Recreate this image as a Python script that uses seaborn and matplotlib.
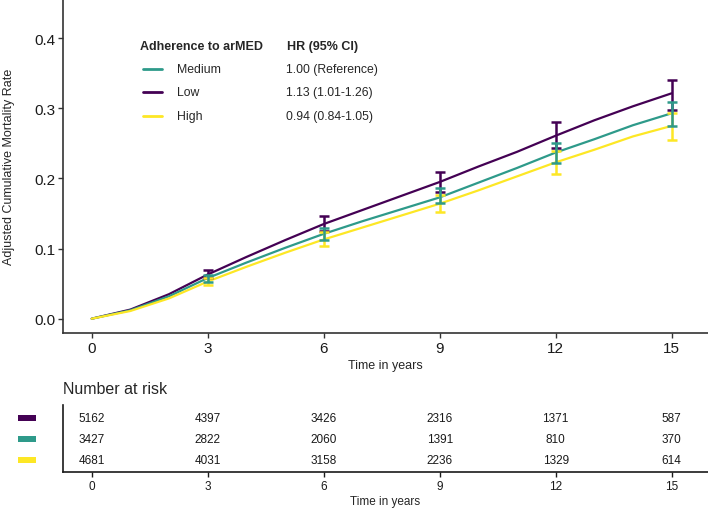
import matplotlib
matplotlib.use("Agg")
import matplotlib.pyplot as plt
from matplotlib.patches import Rectangle
from matplotlib.lines import Line2D
import numpy as np
import pandas as pd
import seaborn as sns

# ---------------- data ----------------
groups = ["Low", "Medium", "High"]
legend_order = ["Medium", "Low", "High"]
hr_labels = {"Medium": "1.00 (Reference)", "Low": "1.13 (1.01-1.26)", "High": "0.94 (0.84-1.05)"}
colors = {"Low": "#440154", "Medium": "#2E9A8A", "High": "#FDE725"}

years = [0, 1, 2, 3, 4, 5, 6, 7, 8, 9, 10, 11, 12, 13, 14, 15]
risk_low = [0, 0.013, 0.035, 0.063, 0.088, 0.112, 0.135, 0.155, 0.175, 0.195, 0.217, 0.238, 0.261, 0.283, 0.303, 0.3215]
risk_medium = [0, 0.012, 0.032, 0.058, 0.080, 0.101, 0.121, 0.139, 0.156, 0.173, 0.194, 0.215, 0.237, 0.256, 0.276, 0.293]
risk_high = [0, 0.011, 0.029, 0.053, 0.074, 0.094, 0.113, 0.130, 0.147, 0.164, 0.183, 0.203, 0.223, 0.241, 0.260, 0.275]

ci_years = [3, 6, 9, 12, 15]
ci_low_lo = [0.058, 0.1255, 0.181, 0.2435, 0.298]
ci_low_hi = [0.069, 0.146, 0.209, 0.280, 0.341]
ci_medium_lo = [0.053, 0.112, 0.165, 0.2225, 0.275]
ci_medium_hi = [0.063, 0.129, 0.186, 0.2505, 0.309]
ci_high_lo = [0.048, 0.103, 0.152, 0.2065, 0.255]
ci_high_hi = [0.058, 0.123, 0.177, 0.239, 0.294]

risk_times = [0, 3, 6, 9, 12, 15]
at_risk_low = [5162, 4397, 3426, 2316, 1371, 587]
at_risk_medium = [3427, 2822, 2060, 1391, 810, 370]
at_risk_high = [4681, 4031, 3158, 2236, 1329, 614]

curves = {"Low": risk_low, "Medium": risk_medium, "High": risk_high}
cis = {"Low": (ci_low_lo, ci_low_hi), "Medium": (ci_medium_lo, ci_medium_hi),
       "High": (ci_high_lo, ci_high_hi)}
at_risk = {"Low": at_risk_low, "Medium": at_risk_medium, "High": at_risk_high}

df = pd.DataFrame([(t, v, g) for g in groups for t, v in zip(years, curves[g])],
                  columns=["time", "risk", "group"])

# ---------------- style ----------------
sns.set_style("ticks")
plt.rcParams["font.family"] = ["Liberation Sans", "DejaVu Sans"]

W, H = 708, 510
fig = plt.figure(figsize=(W / 100, H / 100), dpi=100)

def fx(px):
    return px / W

def fy(py):
    return 1 - py / H

# main axes
ax = fig.add_axes([fx(62.7), fy(334), 1 - fx(62.7), 334 / H])
sns.lineplot(data=df, x="time", y="risk", hue="group", hue_order=groups,
             palette=colors, estimator=None, legend=False, linewidth=1.6, ax=ax)

for g in ["Low", "High", "Medium"]:
    idx = [years.index(t) for t in ci_years]
    est = np.array([curves[g][i] for i in idx])
    lo = np.array(cis[g][0])
    hi = np.array(cis[g][1])
    ax.errorbar(ci_years, est, yerr=[est - lo, hi - est], fmt="none",
                ecolor=colors[g], capsize=3.3, elinewidth=1.8, capthick=1.8, zorder=3)

ax.set_xlim(-0.75, 15.94)
ax.set_ylim(-0.0204, 0.456)
ax.set_xticks(risk_times)
ax.set_yticks([0, 0.1, 0.2, 0.3, 0.4])
ax.set_yticklabels(["0.0", "0.1", "0.2", "0.3", "0.4"])
ax.tick_params(axis="both", which="major", bottom=True, left=True, direction="out",
               labelsize=11, length=3.5, width=1, color="#333333",
               labelcolor="#1a1a1a", pad=2)
for s in ["top", "right"]:
    ax.spines[s].set_visible(False)
for s in ["left", "bottom"]:
    ax.spines[s].set_color("#333333")
    ax.spines[s].set_linewidth(1.2)
ax.set_xlabel("Time in years", fontsize=9, labelpad=3)
ax.set_ylabel("Adjusted Cumulative Mortality Rate", fontsize=9)
ax.yaxis.set_label_coords((15 - 62.7) / (W - 62.7), 0.5)

# legend (manual)
fig.text(fx(140), fy(46.7), "Adherence to arMED", fontsize=9, fontweight="bold",
         va="center", ha="left")
fig.text(fx(286.7), fy(46.7), "HR (95% CI)", fontsize=9, fontweight="bold",
         va="center", ha="left")
row_y = [70, 93.3, 116.7]
for g, yy in zip(legend_order, row_y):
    fig.add_artist(Line2D([fx(142.7), fx(161.7)], [fy(yy), fy(yy)], color=colors[g],
                          linewidth=2.0, transform=fig.transFigure))
    fig.text(fx(176.7), fy(yy), g, fontsize=8.8, va="center", ha="left")
    fig.text(fx(286), fy(yy), hr_labels[g], fontsize=8.8, va="center", ha="left")

# risk table
ax2 = fig.add_axes([fx(62.7), fy(473.3), 1 - fx(62.7), 67.3 / H])
ax2.set_xlim(-0.75, 15.94)
ax2.set_ylim(0.41, 3.64)
row_pos = {"Low": 3, "Medium": 2, "High": 1}
for g in groups:
    for t, n in zip(risk_times, at_risk[g]):
        ax2.text(t, row_pos[g], str(n), ha="center", va="center", fontsize=8.5,
                 color="#1a1a1a")
ax2.set_xticks(risk_times)
ax2.set_yticks([])
ax2.tick_params(axis="x", bottom=True, direction="out", labelsize=8.5, length=3.5,
                width=1, color="#1a1a1a", labelcolor="#1a1a1a", pad=2)
for s in ["top", "right"]:
    ax2.spines[s].set_visible(False)
for s in ["left", "bottom"]:
    ax2.spines[s].set_color("#1a1a1a")
    ax2.spines[s].set_linewidth(1.2)
ax2.set_xlabel("Time in years", fontsize=8.5, labelpad=2)

fig.text(fx(63), fy(390), "Number at risk", fontsize=11.5, va="center", ha="left")

for g, yy in zip(["Low", "Medium", "High"], [419.3, 440.3, 461]):
    fig.add_artist(Rectangle((fx(17.7), fy(yy + 3)), fx(18.3), 6 / H,
                             facecolor=colors[g], edgecolor="none",
                             transform=fig.transFigure))

fig.savefig("out.png", dpi=100)
